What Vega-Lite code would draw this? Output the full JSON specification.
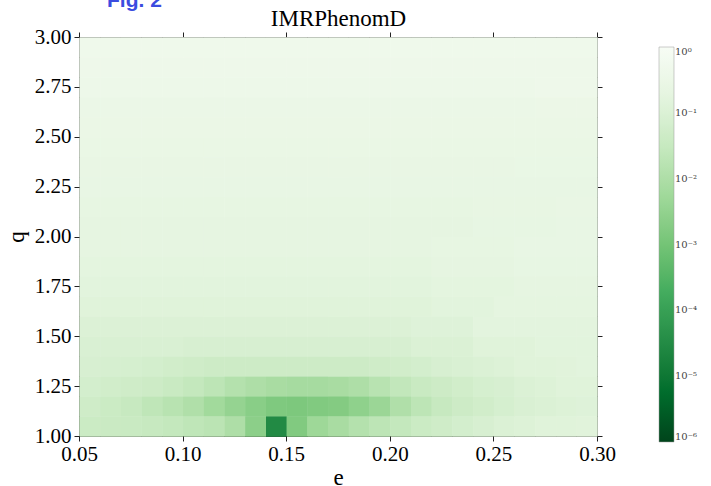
{
"$schema": "https://vega.github.io/schema/vega-lite/v6.json",
"width": 518, "height": 399,
"autosize": {"type": "none"},
"padding": {"left": 79, "top": 37, "right": 114, "bottom": 50},
"background": "white",
"title": {"text": "Fig. 2", "anchor": "start", "frame": "group", "dx": 28, "dy": 22, "offset": 2, "font": "Liberation Sans", "fontSize": 21, "fontWeight": "bold", "color": "#3b4cdf", "baseline": "alphabetic"},
"config": {
 "view": {"stroke": "#333", "strokeWidth": 1},
 "axis": {"grid": false, "domain": false, "labelFlush": false, "labelFont": "Liberation Serif", "labelFontSize": 21, "labelColor": "#000", "tickColor": "#222", "tickSize": 5, "tickWidth": 1, "titleFont": "Liberation Serif", "titleFontSize": 23, "titleFontWeight": "normal", "titleColor": "#000"}
},
"datasets": {"grid": [
{"e":0.055,"q":2.95,"z":0.45},{"e":0.065,"q":2.95,"z":0.45},{"e":0.075,"q":2.95,"z":0.45},{"e":0.085,"q":2.95,"z":0.45},{"e":0.095,"q":2.95,"z":0.45},{"e":0.105,"q":2.95,"z":0.45},{"e":0.115,"q":2.95,"z":0.45},{"e":0.125,"q":2.95,"z":0.45},{"e":0.135,"q":2.95,"z":0.45},{"e":0.145,"q":2.95,"z":0.45},{"e":0.155,"q":2.95,"z":0.45},{"e":0.165,"q":2.95,"z":0.45},{"e":0.175,"q":2.95,"z":0.45},{"e":0.185,"q":2.95,"z":0.45},{"e":0.195,"q":2.95,"z":0.45},{"e":0.205,"q":2.95,"z":0.45},{"e":0.215,"q":2.95,"z":0.45},{"e":0.225,"q":2.95,"z":0.45},{"e":0.235,"q":2.95,"z":0.45},{"e":0.245,"q":2.95,"z":0.45},{"e":0.255,"q":2.95,"z":0.45},{"e":0.265,"q":2.95,"z":0.45},{"e":0.275,"q":2.95,"z":0.45},{"e":0.285,"q":2.95,"z":0.45},{"e":0.295,"q":2.95,"z":0.45},
{"e":0.055,"q":2.85,"z":0.42},{"e":0.065,"q":2.85,"z":0.42},{"e":0.075,"q":2.85,"z":0.42},{"e":0.085,"q":2.85,"z":0.42},{"e":0.095,"q":2.85,"z":0.42},{"e":0.105,"q":2.85,"z":0.42},{"e":0.115,"q":2.85,"z":0.42},{"e":0.125,"q":2.85,"z":0.42},{"e":0.135,"q":2.85,"z":0.42},{"e":0.145,"q":2.85,"z":0.42},{"e":0.155,"q":2.85,"z":0.42},{"e":0.165,"q":2.85,"z":0.42},{"e":0.175,"q":2.85,"z":0.42},{"e":0.185,"q":2.85,"z":0.42},{"e":0.195,"q":2.85,"z":0.42},{"e":0.205,"q":2.85,"z":0.42},{"e":0.215,"q":2.85,"z":0.42},{"e":0.225,"q":2.85,"z":0.42},{"e":0.235,"q":2.85,"z":0.42},{"e":0.245,"q":2.85,"z":0.42},{"e":0.255,"q":2.85,"z":0.42},{"e":0.265,"q":2.85,"z":0.42},{"e":0.275,"q":2.85,"z":0.42},{"e":0.285,"q":2.85,"z":0.42},{"e":0.295,"q":2.85,"z":0.42},
{"e":0.055,"q":2.75,"z":0.38},{"e":0.065,"q":2.75,"z":0.38},{"e":0.075,"q":2.75,"z":0.38},{"e":0.085,"q":2.75,"z":0.38},{"e":0.095,"q":2.75,"z":0.38},{"e":0.105,"q":2.75,"z":0.38},{"e":0.115,"q":2.75,"z":0.38},{"e":0.125,"q":2.75,"z":0.38},{"e":0.135,"q":2.75,"z":0.38},{"e":0.145,"q":2.75,"z":0.38},{"e":0.155,"q":2.75,"z":0.38},{"e":0.165,"q":2.75,"z":0.38},{"e":0.175,"q":2.75,"z":0.38},{"e":0.185,"q":2.75,"z":0.38},{"e":0.195,"q":2.75,"z":0.38},{"e":0.205,"q":2.75,"z":0.38},{"e":0.215,"q":2.75,"z":0.38},{"e":0.225,"q":2.75,"z":0.38},{"e":0.235,"q":2.75,"z":0.38},{"e":0.245,"q":2.75,"z":0.38},{"e":0.255,"q":2.75,"z":0.38},{"e":0.265,"q":2.75,"z":0.38},{"e":0.275,"q":2.75,"z":0.4},{"e":0.285,"q":2.75,"z":0.4},{"e":0.295,"q":2.75,"z":0.4},
{"e":0.055,"q":2.65,"z":0.32},{"e":0.065,"q":2.65,"z":0.32},{"e":0.075,"q":2.65,"z":0.32},{"e":0.085,"q":2.65,"z":0.32},{"e":0.095,"q":2.65,"z":0.32},{"e":0.105,"q":2.65,"z":0.32},{"e":0.115,"q":2.65,"z":0.32},{"e":0.125,"q":2.65,"z":0.32},{"e":0.135,"q":2.65,"z":0.32},{"e":0.145,"q":2.65,"z":0.32},{"e":0.155,"q":2.65,"z":0.32},{"e":0.165,"q":2.65,"z":0.32},{"e":0.175,"q":2.65,"z":0.32},{"e":0.185,"q":2.65,"z":0.32},{"e":0.195,"q":2.65,"z":0.32},{"e":0.205,"q":2.65,"z":0.32},{"e":0.215,"q":2.65,"z":0.32},{"e":0.225,"q":2.65,"z":0.32},{"e":0.235,"q":2.65,"z":0.32},{"e":0.245,"q":2.65,"z":0.32},{"e":0.255,"q":2.65,"z":0.32},{"e":0.265,"q":2.65,"z":0.32},{"e":0.275,"q":2.65,"z":0.33},{"e":0.285,"q":2.65,"z":0.33},{"e":0.295,"q":2.65,"z":0.33},
{"e":0.055,"q":2.55,"z":0.3},{"e":0.065,"q":2.55,"z":0.3},{"e":0.075,"q":2.55,"z":0.3},{"e":0.085,"q":2.55,"z":0.3},{"e":0.095,"q":2.55,"z":0.3},{"e":0.105,"q":2.55,"z":0.3},{"e":0.115,"q":2.55,"z":0.3},{"e":0.125,"q":2.55,"z":0.3},{"e":0.135,"q":2.55,"z":0.3},{"e":0.145,"q":2.55,"z":0.3},{"e":0.155,"q":2.55,"z":0.3},{"e":0.165,"q":2.55,"z":0.3},{"e":0.175,"q":2.55,"z":0.3},{"e":0.185,"q":2.55,"z":0.3},{"e":0.195,"q":2.55,"z":0.3},{"e":0.205,"q":2.55,"z":0.3},{"e":0.215,"q":2.55,"z":0.3},{"e":0.225,"q":2.55,"z":0.3},{"e":0.235,"q":2.55,"z":0.3},{"e":0.245,"q":2.55,"z":0.3},{"e":0.255,"q":2.55,"z":0.3},{"e":0.265,"q":2.55,"z":0.3},{"e":0.275,"q":2.55,"z":0.3},{"e":0.285,"q":2.55,"z":0.3},{"e":0.295,"q":2.55,"z":0.3},
{"e":0.055,"q":2.45,"z":0.28},{"e":0.065,"q":2.45,"z":0.28},{"e":0.075,"q":2.45,"z":0.28},{"e":0.085,"q":2.45,"z":0.28},{"e":0.095,"q":2.45,"z":0.28},{"e":0.105,"q":2.45,"z":0.28},{"e":0.115,"q":2.45,"z":0.28},{"e":0.125,"q":2.45,"z":0.28},{"e":0.135,"q":2.45,"z":0.28},{"e":0.145,"q":2.45,"z":0.28},{"e":0.155,"q":2.45,"z":0.28},{"e":0.165,"q":2.45,"z":0.28},{"e":0.175,"q":2.45,"z":0.28},{"e":0.185,"q":2.45,"z":0.28},{"e":0.195,"q":2.45,"z":0.28},{"e":0.205,"q":2.45,"z":0.28},{"e":0.215,"q":2.45,"z":0.28},{"e":0.225,"q":2.45,"z":0.28},{"e":0.235,"q":2.45,"z":0.28},{"e":0.245,"q":2.45,"z":0.28},{"e":0.255,"q":2.45,"z":0.28},{"e":0.265,"q":2.45,"z":0.28},{"e":0.275,"q":2.45,"z":0.28},{"e":0.285,"q":2.45,"z":0.28},{"e":0.295,"q":2.45,"z":0.28},
{"e":0.055,"q":2.35,"z":0.25},{"e":0.065,"q":2.35,"z":0.25},{"e":0.075,"q":2.35,"z":0.25},{"e":0.085,"q":2.35,"z":0.25},{"e":0.095,"q":2.35,"z":0.25},{"e":0.105,"q":2.35,"z":0.25},{"e":0.115,"q":2.35,"z":0.25},{"e":0.125,"q":2.35,"z":0.25},{"e":0.135,"q":2.35,"z":0.25},{"e":0.145,"q":2.35,"z":0.25},{"e":0.155,"q":2.35,"z":0.25},{"e":0.165,"q":2.35,"z":0.25},{"e":0.175,"q":2.35,"z":0.25},{"e":0.185,"q":2.35,"z":0.25},{"e":0.195,"q":2.35,"z":0.25},{"e":0.205,"q":2.35,"z":0.25},{"e":0.215,"q":2.35,"z":0.25},{"e":0.225,"q":2.35,"z":0.25},{"e":0.235,"q":2.35,"z":0.25},{"e":0.245,"q":2.35,"z":0.25},{"e":0.255,"q":2.35,"z":0.25},{"e":0.265,"q":2.35,"z":0.27},{"e":0.275,"q":2.35,"z":0.27},{"e":0.285,"q":2.35,"z":0.27},{"e":0.295,"q":2.35,"z":0.27},
{"e":0.055,"q":2.25,"z":0.24},{"e":0.065,"q":2.25,"z":0.24},{"e":0.075,"q":2.25,"z":0.24},{"e":0.085,"q":2.25,"z":0.24},{"e":0.095,"q":2.25,"z":0.24},{"e":0.105,"q":2.25,"z":0.24},{"e":0.115,"q":2.25,"z":0.24},{"e":0.125,"q":2.25,"z":0.24},{"e":0.135,"q":2.25,"z":0.24},{"e":0.145,"q":2.25,"z":0.24},{"e":0.155,"q":2.25,"z":0.24},{"e":0.165,"q":2.25,"z":0.24},{"e":0.175,"q":2.25,"z":0.24},{"e":0.185,"q":2.25,"z":0.24},{"e":0.195,"q":2.25,"z":0.24},{"e":0.205,"q":2.25,"z":0.24},{"e":0.215,"q":2.25,"z":0.24},{"e":0.225,"q":2.25,"z":0.24},{"e":0.235,"q":2.25,"z":0.24},{"e":0.245,"q":2.25,"z":0.24},{"e":0.255,"q":2.25,"z":0.24},{"e":0.265,"q":2.25,"z":0.24},{"e":0.275,"q":2.25,"z":0.24},{"e":0.285,"q":2.25,"z":0.24},{"e":0.295,"q":2.25,"z":0.24},
{"e":0.055,"q":2.15,"z":0.21},{"e":0.065,"q":2.15,"z":0.21},{"e":0.075,"q":2.15,"z":0.21},{"e":0.085,"q":2.15,"z":0.21},{"e":0.095,"q":2.15,"z":0.21},{"e":0.105,"q":2.15,"z":0.21},{"e":0.115,"q":2.15,"z":0.21},{"e":0.125,"q":2.15,"z":0.21},{"e":0.135,"q":2.15,"z":0.21},{"e":0.145,"q":2.15,"z":0.21},{"e":0.155,"q":2.15,"z":0.21},{"e":0.165,"q":2.15,"z":0.21},{"e":0.175,"q":2.15,"z":0.21},{"e":0.185,"q":2.15,"z":0.21},{"e":0.195,"q":2.15,"z":0.21},{"e":0.205,"q":2.15,"z":0.21},{"e":0.215,"q":2.15,"z":0.21},{"e":0.225,"q":2.15,"z":0.21},{"e":0.235,"q":2.15,"z":0.21},{"e":0.245,"q":2.15,"z":0.23},{"e":0.255,"q":2.15,"z":0.23},{"e":0.265,"q":2.15,"z":0.23},{"e":0.275,"q":2.15,"z":0.23},{"e":0.285,"q":2.15,"z":0.25},{"e":0.295,"q":2.15,"z":0.25},
{"e":0.055,"q":2.05,"z":0.2},{"e":0.065,"q":2.05,"z":0.2},{"e":0.075,"q":2.05,"z":0.2},{"e":0.085,"q":2.05,"z":0.2},{"e":0.095,"q":2.05,"z":0.2},{"e":0.105,"q":2.05,"z":0.2},{"e":0.115,"q":2.05,"z":0.2},{"e":0.125,"q":2.05,"z":0.2},{"e":0.135,"q":2.05,"z":0.2},{"e":0.145,"q":2.05,"z":0.2},{"e":0.155,"q":2.05,"z":0.2},{"e":0.165,"q":2.05,"z":0.2},{"e":0.175,"q":2.05,"z":0.2},{"e":0.185,"q":2.05,"z":0.2},{"e":0.195,"q":2.05,"z":0.2},{"e":0.205,"q":2.05,"z":0.2},{"e":0.215,"q":2.05,"z":0.2},{"e":0.225,"q":2.05,"z":0.2},{"e":0.235,"q":2.05,"z":0.2},{"e":0.245,"q":2.05,"z":0.22},{"e":0.255,"q":2.05,"z":0.22},{"e":0.265,"q":2.05,"z":0.22},{"e":0.275,"q":2.05,"z":0.22},{"e":0.285,"q":2.05,"z":0.24},{"e":0.295,"q":2.05,"z":0.24},
{"e":0.055,"q":1.95,"z":0.19},{"e":0.065,"q":1.95,"z":0.19},{"e":0.075,"q":1.95,"z":0.19},{"e":0.085,"q":1.95,"z":0.19},{"e":0.095,"q":1.95,"z":0.19},{"e":0.105,"q":1.95,"z":0.19},{"e":0.115,"q":1.95,"z":0.19},{"e":0.125,"q":1.95,"z":0.19},{"e":0.135,"q":1.95,"z":0.19},{"e":0.145,"q":1.95,"z":0.19},{"e":0.155,"q":1.95,"z":0.19},{"e":0.165,"q":1.95,"z":0.19},{"e":0.175,"q":1.95,"z":0.19},{"e":0.185,"q":1.95,"z":0.19},{"e":0.195,"q":1.95,"z":0.19},{"e":0.205,"q":1.95,"z":0.19},{"e":0.215,"q":1.95,"z":0.19},{"e":0.225,"q":1.95,"z":0.21},{"e":0.235,"q":1.95,"z":0.21},{"e":0.245,"q":1.95,"z":0.21},{"e":0.255,"q":1.95,"z":0.21},{"e":0.265,"q":1.95,"z":0.24},{"e":0.275,"q":1.95,"z":0.24},{"e":0.285,"q":1.95,"z":0.24},{"e":0.295,"q":1.95,"z":0.24},
{"e":0.055,"q":1.85,"z":0.17},{"e":0.065,"q":1.85,"z":0.17},{"e":0.075,"q":1.85,"z":0.17},{"e":0.085,"q":1.85,"z":0.17},{"e":0.095,"q":1.85,"z":0.17},{"e":0.105,"q":1.85,"z":0.17},{"e":0.115,"q":1.85,"z":0.17},{"e":0.125,"q":1.85,"z":0.17},{"e":0.135,"q":1.85,"z":0.17},{"e":0.145,"q":1.85,"z":0.17},{"e":0.155,"q":1.85,"z":0.17},{"e":0.165,"q":1.85,"z":0.17},{"e":0.175,"q":1.85,"z":0.17},{"e":0.185,"q":1.85,"z":0.17},{"e":0.195,"q":1.85,"z":0.17},{"e":0.205,"q":1.85,"z":0.17},{"e":0.215,"q":1.85,"z":0.17},{"e":0.225,"q":1.85,"z":0.19},{"e":0.235,"q":1.85,"z":0.19},{"e":0.245,"q":1.85,"z":0.19},{"e":0.255,"q":1.85,"z":0.19},{"e":0.265,"q":1.85,"z":0.22},{"e":0.275,"q":1.85,"z":0.22},{"e":0.285,"q":1.85,"z":0.22},{"e":0.295,"q":1.85,"z":0.22},
{"e":0.055,"q":1.75,"z":0.15},{"e":0.065,"q":1.75,"z":0.15},{"e":0.075,"q":1.75,"z":0.15},{"e":0.085,"q":1.75,"z":0.15},{"e":0.095,"q":1.75,"z":0.15},{"e":0.105,"q":1.75,"z":0.15},{"e":0.115,"q":1.75,"z":0.15},{"e":0.125,"q":1.75,"z":0.15},{"e":0.135,"q":1.75,"z":0.15},{"e":0.145,"q":1.75,"z":0.15},{"e":0.155,"q":1.75,"z":0.15},{"e":0.165,"q":1.75,"z":0.15},{"e":0.175,"q":1.75,"z":0.15},{"e":0.185,"q":1.75,"z":0.15},{"e":0.195,"q":1.75,"z":0.15},{"e":0.205,"q":1.75,"z":0.15},{"e":0.215,"q":1.75,"z":0.15},{"e":0.225,"q":1.75,"z":0.17},{"e":0.235,"q":1.75,"z":0.17},{"e":0.245,"q":1.75,"z":0.17},{"e":0.255,"q":1.75,"z":0.17},{"e":0.265,"q":1.75,"z":0.2},{"e":0.275,"q":1.75,"z":0.2},{"e":0.285,"q":1.75,"z":0.2},{"e":0.295,"q":1.75,"z":0.2},
{"e":0.055,"q":1.65,"z":0.13},{"e":0.065,"q":1.65,"z":0.13},{"e":0.075,"q":1.65,"z":0.13},{"e":0.085,"q":1.65,"z":0.13},{"e":0.095,"q":1.65,"z":0.13},{"e":0.105,"q":1.65,"z":0.13},{"e":0.115,"q":1.65,"z":0.13},{"e":0.125,"q":1.65,"z":0.13},{"e":0.135,"q":1.65,"z":0.13},{"e":0.145,"q":1.65,"z":0.13},{"e":0.155,"q":1.65,"z":0.13},{"e":0.165,"q":1.65,"z":0.13},{"e":0.175,"q":1.65,"z":0.13},{"e":0.185,"q":1.65,"z":0.13},{"e":0.195,"q":1.65,"z":0.13},{"e":0.205,"q":1.65,"z":0.13},{"e":0.215,"q":1.65,"z":0.13},{"e":0.225,"q":1.65,"z":0.15},{"e":0.235,"q":1.65,"z":0.15},{"e":0.245,"q":1.65,"z":0.15},{"e":0.255,"q":1.65,"z":0.18},{"e":0.265,"q":1.65,"z":0.18},{"e":0.275,"q":1.65,"z":0.18},{"e":0.285,"q":1.65,"z":0.18},{"e":0.295,"q":1.65,"z":0.18},
{"e":0.055,"q":1.55,"z":0.105},{"e":0.065,"q":1.55,"z":0.105},{"e":0.075,"q":1.55,"z":0.105},{"e":0.085,"q":1.55,"z":0.105},{"e":0.095,"q":1.55,"z":0.105},{"e":0.105,"q":1.55,"z":0.105},{"e":0.115,"q":1.55,"z":0.105},{"e":0.125,"q":1.55,"z":0.105},{"e":0.135,"q":1.55,"z":0.105},{"e":0.145,"q":1.55,"z":0.105},{"e":0.155,"q":1.55,"z":0.105},{"e":0.165,"q":1.55,"z":0.105},{"e":0.175,"q":1.55,"z":0.105},{"e":0.185,"q":1.55,"z":0.105},{"e":0.195,"q":1.55,"z":0.105},{"e":0.205,"q":1.55,"z":0.105},{"e":0.215,"q":1.55,"z":0.12},{"e":0.225,"q":1.55,"z":0.12},{"e":0.235,"q":1.55,"z":0.12},{"e":0.245,"q":1.55,"z":0.16},{"e":0.255,"q":1.55,"z":0.16},{"e":0.265,"q":1.55,"z":0.16},{"e":0.275,"q":1.55,"z":0.16},{"e":0.285,"q":1.55,"z":0.16},{"e":0.295,"q":1.55,"z":0.16},
{"e":0.055,"q":1.45,"z":0.089},{"e":0.065,"q":1.45,"z":0.089},{"e":0.075,"q":1.45,"z":0.089},{"e":0.085,"q":1.45,"z":0.089},{"e":0.095,"q":1.45,"z":0.089},{"e":0.105,"q":1.45,"z":0.079},{"e":0.115,"q":1.45,"z":0.079},{"e":0.125,"q":1.45,"z":0.079},{"e":0.135,"q":1.45,"z":0.079},{"e":0.145,"q":1.45,"z":0.079},{"e":0.155,"q":1.45,"z":0.079},{"e":0.165,"q":1.45,"z":0.079},{"e":0.175,"q":1.45,"z":0.079},{"e":0.185,"q":1.45,"z":0.079},{"e":0.195,"q":1.45,"z":0.079},{"e":0.205,"q":1.45,"z":0.079},{"e":0.215,"q":1.45,"z":0.1},{"e":0.225,"q":1.45,"z":0.1},{"e":0.235,"q":1.45,"z":0.1},{"e":0.245,"q":1.45,"z":0.13},{"e":0.255,"q":1.45,"z":0.13},{"e":0.265,"q":1.45,"z":0.13},{"e":0.275,"q":1.45,"z":0.15},{"e":0.285,"q":1.45,"z":0.15},{"e":0.295,"q":1.45,"z":0.15},
{"e":0.055,"q":1.35,"z":0.079},{"e":0.065,"q":1.35,"z":0.076},{"e":0.075,"q":1.35,"z":0.071},{"e":0.085,"q":1.35,"z":0.063},{"e":0.095,"q":1.35,"z":0.056},{"e":0.105,"q":1.35,"z":0.05},{"e":0.115,"q":1.35,"z":0.045},{"e":0.125,"q":1.35,"z":0.045},{"e":0.135,"q":1.35,"z":0.045},{"e":0.145,"q":1.35,"z":0.045},{"e":0.155,"q":1.35,"z":0.045},{"e":0.165,"q":1.35,"z":0.045},{"e":0.175,"q":1.35,"z":0.045},{"e":0.185,"q":1.35,"z":0.045},{"e":0.195,"q":1.35,"z":0.05},{"e":0.205,"q":1.35,"z":0.056},{"e":0.215,"q":1.35,"z":0.063},{"e":0.225,"q":1.35,"z":0.079},{"e":0.235,"q":1.35,"z":0.089},{"e":0.245,"q":1.35,"z":0.1},{"e":0.255,"q":1.35,"z":0.11},{"e":0.265,"q":1.35,"z":0.13},{"e":0.275,"q":1.35,"z":0.13},{"e":0.285,"q":1.35,"z":0.14},{"e":0.295,"q":1.35,"z":0.15},
{"e":0.055,"q":1.25,"z":0.063},{"e":0.065,"q":1.25,"z":0.056},{"e":0.075,"q":1.25,"z":0.05},{"e":0.085,"q":1.25,"z":0.045},{"e":0.095,"q":1.25,"z":0.035},{"e":0.105,"q":1.25,"z":0.028},{"e":0.115,"q":1.25,"z":0.02},{"e":0.125,"q":1.25,"z":0.013},{"e":0.135,"q":1.25,"z":0.01},{"e":0.145,"q":1.25,"z":0.008},{"e":0.155,"q":1.25,"z":0.007},{"e":0.165,"q":1.25,"z":0.007},{"e":0.175,"q":1.25,"z":0.008},{"e":0.185,"q":1.25,"z":0.01},{"e":0.195,"q":1.25,"z":0.016},{"e":0.205,"q":1.25,"z":0.025},{"e":0.215,"q":1.25,"z":0.035},{"e":0.225,"q":1.25,"z":0.045},{"e":0.235,"q":1.25,"z":0.056},{"e":0.245,"q":1.25,"z":0.071},{"e":0.255,"q":1.25,"z":0.079},{"e":0.265,"q":1.25,"z":0.1},{"e":0.275,"q":1.25,"z":0.11},{"e":0.285,"q":1.25,"z":0.13},{"e":0.295,"q":1.25,"z":0.13},
{"e":0.055,"q":1.15,"z":0.05},{"e":0.065,"q":1.15,"z":0.04},{"e":0.075,"q":1.15,"z":0.032},{"e":0.085,"q":1.15,"z":0.022},{"e":0.095,"q":1.15,"z":0.016},{"e":0.105,"q":1.15,"z":0.011},{"e":0.115,"q":1.15,"z":0.006},{"e":0.125,"q":1.15,"z":0.0035},{"e":0.135,"q":1.15,"z":0.0022},{"e":0.145,"q":1.15,"z":0.0015},{"e":0.155,"q":1.15,"z":0.0014},{"e":0.165,"q":1.15,"z":0.0016},{"e":0.175,"q":1.15,"z":0.0018},{"e":0.185,"q":1.15,"z":0.0028},{"e":0.195,"q":1.15,"z":0.0045},{"e":0.205,"q":1.15,"z":0.011},{"e":0.215,"q":1.15,"z":0.02},{"e":0.225,"q":1.15,"z":0.032},{"e":0.235,"q":1.15,"z":0.045},{"e":0.245,"q":1.15,"z":0.056},{"e":0.255,"q":1.15,"z":0.071},{"e":0.265,"q":1.15,"z":0.089},{"e":0.275,"q":1.15,"z":0.1},{"e":0.285,"q":1.15,"z":0.11},{"e":0.295,"q":1.15,"z":0.12},
{"e":0.055,"q":1.05,"z":0.04},{"e":0.065,"q":1.05,"z":0.038},{"e":0.075,"q":1.05,"z":0.035},{"e":0.085,"q":1.05,"z":0.032},{"e":0.095,"q":1.05,"z":0.028},{"e":0.105,"q":1.05,"z":0.022},{"e":0.115,"q":1.05,"z":0.018},{"e":0.125,"q":1.05,"z":0.01},{"e":0.135,"q":1.05,"z":0.0025},{"e":0.145,"q":1.05,"z":0.00003},{"e":0.155,"q":1.05,"z":0.0016},{"e":0.165,"q":1.05,"z":0.005},{"e":0.175,"q":1.05,"z":0.0079},{"e":0.185,"q":1.05,"z":0.013},{"e":0.195,"q":1.05,"z":0.02},{"e":0.205,"q":1.05,"z":0.028},{"e":0.215,"q":1.05,"z":0.04},{"e":0.225,"q":1.05,"z":0.05},{"e":0.235,"q":1.05,"z":0.063},{"e":0.245,"q":1.05,"z":0.079},{"e":0.255,"q":1.05,"z":0.1},{"e":0.265,"q":1.05,"z":0.11},{"e":0.275,"q":1.05,"z":0.13},{"e":0.285,"q":1.05,"z":0.13},{"e":0.295,"q":1.05,"z":0.14}
]},
"data": {"name": "grid"},
"layer": [
 {
  "mark": {"type": "rect"},
  "encoding": {
   "x": {"field": "e", "type": "quantitative", "bin": {"step": 0.01, "extent": [0.05, 0.3]}, "scale": {"domain": [0.05, 0.3], "nice": false, "zero": false},
     "axis": {"orient": "bottom", "values": [0.05, 0.1, 0.15, 0.2, 0.25, 0.3], "format": ".2f", "labelPadding": 2, "title": "e", "titlePadding": 2}},
   "y": {"field": "q", "type": "quantitative", "bin": {"step": 0.1, "extent": [1, 3]}, "scale": {"domain": [1, 3], "nice": false, "zero": false},
     "axis": {"orient": "left", "values": [1, 1.25, 1.5, 1.75, 2, 2.25, 2.5, 2.75, 3], "format": ".2f", "labelPadding": 3, "title": "q", "titlePadding": 6}},
   "color": {"field": "z", "type": "quantitative",
     "scale": {"type": "log", "domain": [0.000001, 0.000005623, 0.00003162, 0.0001778, 0.001, 0.005623, 0.03162, 0.1778, 1], "range": ["#00441b", "#006d2c", "#238b45", "#41ab5d", "#74c476", "#a1d99b", "#c7e9c0", "#e5f5e0", "#f7fcf5"]},
     "legend": {"type": "gradient", "orient": "none", "legendX": 580, "legendY": 10, "direction": "vertical", "gradientLength": 395, "gradientThickness": 15, "title": null,
       "values": [0.000001, 0.00001, 0.0001, 0.001, 0.01, 0.1, 1], "labelFont": "DejaVu Serif", "labelFontSize": 10, "labelColor": "#444", "labelOffset": 1,
       "gradientStrokeColor": "#999", "gradientStrokeWidth": 0.5,
       "labelExpr": "datum.value > 0.5 ? '10⁰' : datum.value > 0.05 ? '10⁻¹' : datum.value > 0.005 ? '10⁻²' : datum.value > 0.0005 ? '10⁻³' : datum.value > 0.00005 ? '10⁻⁴' : datum.value > 0.000005 ? '10⁻⁵' : '10⁻⁶'"}}
  }
 },
 {
  "mark": {"type": "rect"},
  "encoding": {
   "x": {"field": "e", "type": "quantitative", "bin": {"step": 0.01, "extent": [0.05, 0.3]}, "axis": null},
   "y": {"field": "q", "type": "quantitative", "bin": {"step": 0.1, "extent": [1, 3]}, "axis": null},
   "color": {"field": "z", "type": "quantitative"}
  }
 },
 {
  "mark": {"type": "point", "opacity": 0},
  "encoding": {
   "x": {"field": "e", "type": "quantitative", "axis": {"orient": "top", "values": [0.05, 0.1, 0.15, 0.2, 0.25, 0.3], "labels": false, "title": "IMRPhenomD", "titlePadding": 1}},
   "y": {"field": "q", "type": "quantitative", "axis": {"orient": "right", "values": [1, 1.25, 1.5, 1.75, 2, 2.25, 2.5, 2.75, 3], "labels": false, "title": null}}
  }
 }
],
"resolve": {"axis": {"x": "independent", "y": "independent"}}
}
